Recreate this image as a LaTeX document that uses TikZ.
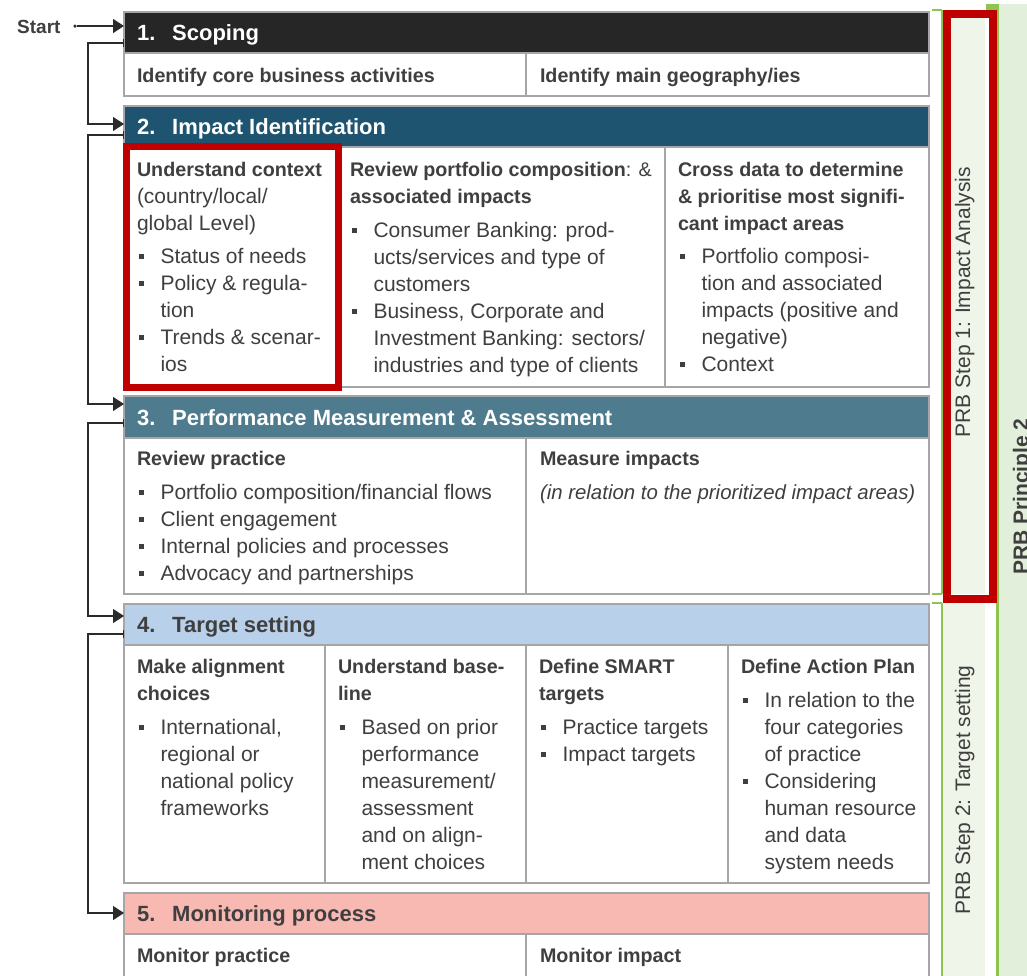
\documentclass[tikz,border=0pt]{standalone}
\usepackage{fontspec}
\setmainfont{Liberation Sans}
\usetikzlibrary{arrows.meta}
\definecolor{txt}{HTML}{3F3F3F}
\definecolor{bordergray}{HTML}{A6A6A6}
\definecolor{hdone}{HTML}{262626}
\definecolor{hdtwo}{HTML}{1F5470}
\definecolor{hdthree}{HTML}{4E7B8E}
\definecolor{hdfour}{HTML}{B8D0E9}
\definecolor{hdfive}{HTML}{F8B9B3}
\definecolor{redframe}{HTML}{C00000}
\definecolor{prbgreen}{HTML}{8DC54F}
\definecolor{stepfill}{HTML}{EFF5E8}
\definecolor{princfill}{HTML}{E2EFDA}
\definecolor{connline}{HTML}{2B2B2B}
\newcommand\fsub{\fontsize{19.7}{27}\selectfont\bfseries}
\newcommand\freg{\fontsize{21}{27}\selectfont\mdseries}
\newcommand\bl{\makebox[23.5pt][l]{\hspace{1.5pt}\rule[4pt]{5.5pt}{5.5pt}}}
\newcommand\ind{\hspace*{23.5pt}}
\tikzset{
  cell/.style={anchor=north west, inner sep=0pt, outer sep=0pt, align=left, text=txt, font=\fontsize{21}{27}\selectfont},
  hdr/.style={draw=bordergray, line width=1.2pt, minimum width=805pt, minimum height=41pt, inner sep=0pt, outer sep=0pt},
  hlabel/.style={anchor=base west, inner sep=0pt, font=\fontsize{22}{26}\selectfont\bfseries},
  bodybox/.style={draw=bordergray, line width=1.2pt, fill=white},
  divider/.style={draw=bordergray, line width=1.2pt},
  conn/.style={draw=connline, line width=1.3pt},
  fwdconn/.style={{Bar[width=8pt,line width=1pt]}-{Triangle[length=11pt,width=14pt]}},
  steptext/.style={rotate=90, anchor=base, inner sep=0pt, text=txt, font=\fontsize{21}{26}\selectfont},
  greenline/.style={draw=prbgreen, line width=2pt}
}
\begin{document}
\begin{tikzpicture}[x=1pt,y=-1pt]
\fill[white] (0,0) rectangle (1027,975);
\useasboundingbox (0,0) rectangle (1027,975);

% right side bars
\fill[princfill] (997,4) rectangle (1030,980);
\draw[prbgreen, line width=3pt] (997.5,4) -- (997.5,980);
\fill[prbgreen] (986,4) rectangle (999,10);
\fill[stepfill] (942,10) rectangle (985,594);
\fill[stepfill] (942,603) rectangle (985,980);
\draw[greenline] (942,10) -- (942,594);
\draw[greenline] (942,603) -- (942,980);
\draw[greenline] (932,10) -- (942,10);
\draw[greenline] (932,594) -- (942,594);
\draw[greenline] (932,603) -- (942,603);
\node[steptext] (step1) at (970,302) {PRB Step 1: Impact Analysis};
\node[steptext] (step2) at (970,790) {PRB Step 2: Target setting};
\node[rotate=90, anchor=base west, inner sep=0pt, text=txt, font=\fontsize{21}{26}\selectfont\bfseries] (princ) at (1028,575) {PRB Principle 2};

% bodies
\draw[bodybox] (124,53) rectangle (929,96);
\draw[divider] (526,53) -- (526,96);
\draw[bodybox] (124,147) rectangle (929,387);
\draw[divider] (336,147) -- (336,387);
\draw[divider] (665,147) -- (665,387);
\draw[bodybox] (124,438) rectangle (929,594);
\draw[divider] (526,438) -- (526,594);
\draw[bodybox] (124,645) rectangle (929,883);
\draw[divider] (325,645) -- (325,883);
\draw[divider] (526,645) -- (526,883);
\draw[divider] (728,645) -- (728,883);
\draw[bodybox] (124,934) rectangle (929,990);
\draw[divider] (526,934) -- (526,990);

% headers
\node[hdr, fill=hdone] (h1) at (526.5,32.5) {};
\node[hdr, fill=hdtwo] (h2) at (526.5,126.5) {};
\node[hdr, fill=hdthree, minimum height=42pt] (h3) at (526.5,417) {};
\node[hdr, fill=hdfour] (h4) at (526.5,624.5) {};
\node[hdr, fill=hdfive] (h5) at (526.5,913.5) {};
\node[hlabel, text=white] (l1) at (137,40.5) {\makebox[35pt][l]{1.}Scoping};
\node[hlabel, text=white] (l2) at (137,134.5) {\makebox[35pt][l]{2.}Impact Identification};
\node[hlabel, text=white] (l3) at (137,425) {\makebox[35pt][l]{3.}Performance Measurement \& Assessment};
\node[hlabel, text=txt] (l4) at (137,632.5) {\makebox[35pt][l]{4.}Target setting};
\node[hlabel, text=txt] (l5) at (137,921.5) {\makebox[35pt][l]{5.}Monitoring process};

% section 1 cells
\node[cell] (c1a) at (137,63.1) {\fsub\strut Identify core business activities};
\node[cell] (c1b) at (540,63.1) {\fsub\strut Identify main geography/ies};

% section 2 cells
\node[cell] (c2a) at (137,157.1) {\fsub\strut Understand context\\
\freg (country/local/\\
\freg global Level)\\[6pt]
\freg\bl Status of needs\\
\freg\bl Policy \& regula-\\
\freg\ind tion\\
\freg\bl Trends \& scenar-\\
\freg\ind ios};
\node[cell] (c2b) at (350,157.1) {\fsub\strut Review portfolio composition\mdseries: \&\\
\fsub associated impacts\\[7pt]
\freg\bl Consumer Banking: prod-\\
\freg\ind ucts/services and type of\\
\freg\ind customers\\
\freg\bl Business, Corporate and\\
\freg\ind Investment Banking: sectors/\\
\freg\ind industries and type of clients};
\node[cell] (c2c) at (678,157.1) {\fsub\strut Cross data to determine\\
\fsub \& prioritise most signifi-\\
\fsub cant impact areas\\[6pt]
\freg\bl Portfolio composi-\\
\freg\ind tion and associated\\
\freg\ind impacts (positive and\\
\freg\ind negative)\\
\freg\bl Context};

% section 3 cells
\node[cell] (c3a) at (137,446.1) {\fsub\strut Review practice\\[7pt]
\freg\bl Portfolio composition/financial flows\\
\freg\bl Client engagement\\
\freg\bl Internal policies and processes\\
\freg\bl Advocacy and partnerships};
\node[cell] (c3b) at (540,446.1) {\fsub\strut Measure impacts\\[7pt]
\fontsize{20.4}{27}\selectfont\mdseries\itshape (in relation to the prioritized impact areas)};

% section 4 cells
\node[cell] (c4a) at (137,654.1) {\fsub\strut Make alignment\\
\fsub choices\\[7pt]
\freg\bl International,\\
\freg\ind regional or\\
\freg\ind national policy\\
\freg\ind frameworks};
\node[cell] (c4b) at (338,654.1) {\fsub\strut Understand base-\\
\fsub line\\[7pt]
\freg\bl Based on prior\\
\freg\ind performance\\
\freg\ind measurement/\\
\freg\ind assessment\\
\freg\ind and on align-\\
\freg\ind ment choices};
\node[cell] (c4c) at (539,654.1) {\fsub\strut Define SMART\\
\fsub targets\\[7pt]
\freg\bl Practice targets\\
\freg\bl Impact targets};
\node[cell] (c4d) at (741,654.1) {\fsub\strut Define Action Plan\\[7pt]
\freg\bl In relation to the\\
\freg\ind four categories\\
\freg\ind of practice\\
\freg\bl Considering\\
\freg\ind human resource\\
\freg\ind and data\\
\freg\ind system needs};

% section 5 cells
\node[cell] (c5a) at (137,943.1) {\fsub\strut Monitor practice};
\node[cell] (c5b) at (540,943.1) {\fsub\strut Monitor impact};

% red frames
\draw[redframe, line width=7pt] (126,146.5) rectangle (338.5,387.5);
\draw[redframe, line width=8pt] (947,14) rectangle (993,599);

% start and connectors
\node[anchor=base west, inner sep=0pt, text=txt, font=\fontsize{19}{24}\selectfont\bfseries] (start) at (17,33) {Start};
\node[circle, fill=connline, inner sep=0pt, minimum size=3.5pt] (sdot) at (75,26) {};
\draw[conn, -{Triangle[length=11pt,width=14pt]}] (sdot) -- (sdot -| h1.west);
\draw[conn, fwdconn] ([yshift=-10.5pt]h1.west) -- ++(-36,0) |- ([yshift=2.5pt]h2.west);
\draw[conn, fwdconn] ([yshift=-8.5pt]h2.west) -- ++(-36,0) |- ([yshift=13pt]h3.west);
\draw[conn, fwdconn] ([yshift=-6pt]h3.west) -- ++(-36,0) |- ([yshift=8.5pt]h4.west);
\draw[conn, fwdconn] ([yshift=-9.5pt]h4.west) -- ++(-36,0) |- ([yshift=0.5pt]h5.west);
\end{tikzpicture}
\end{document}
